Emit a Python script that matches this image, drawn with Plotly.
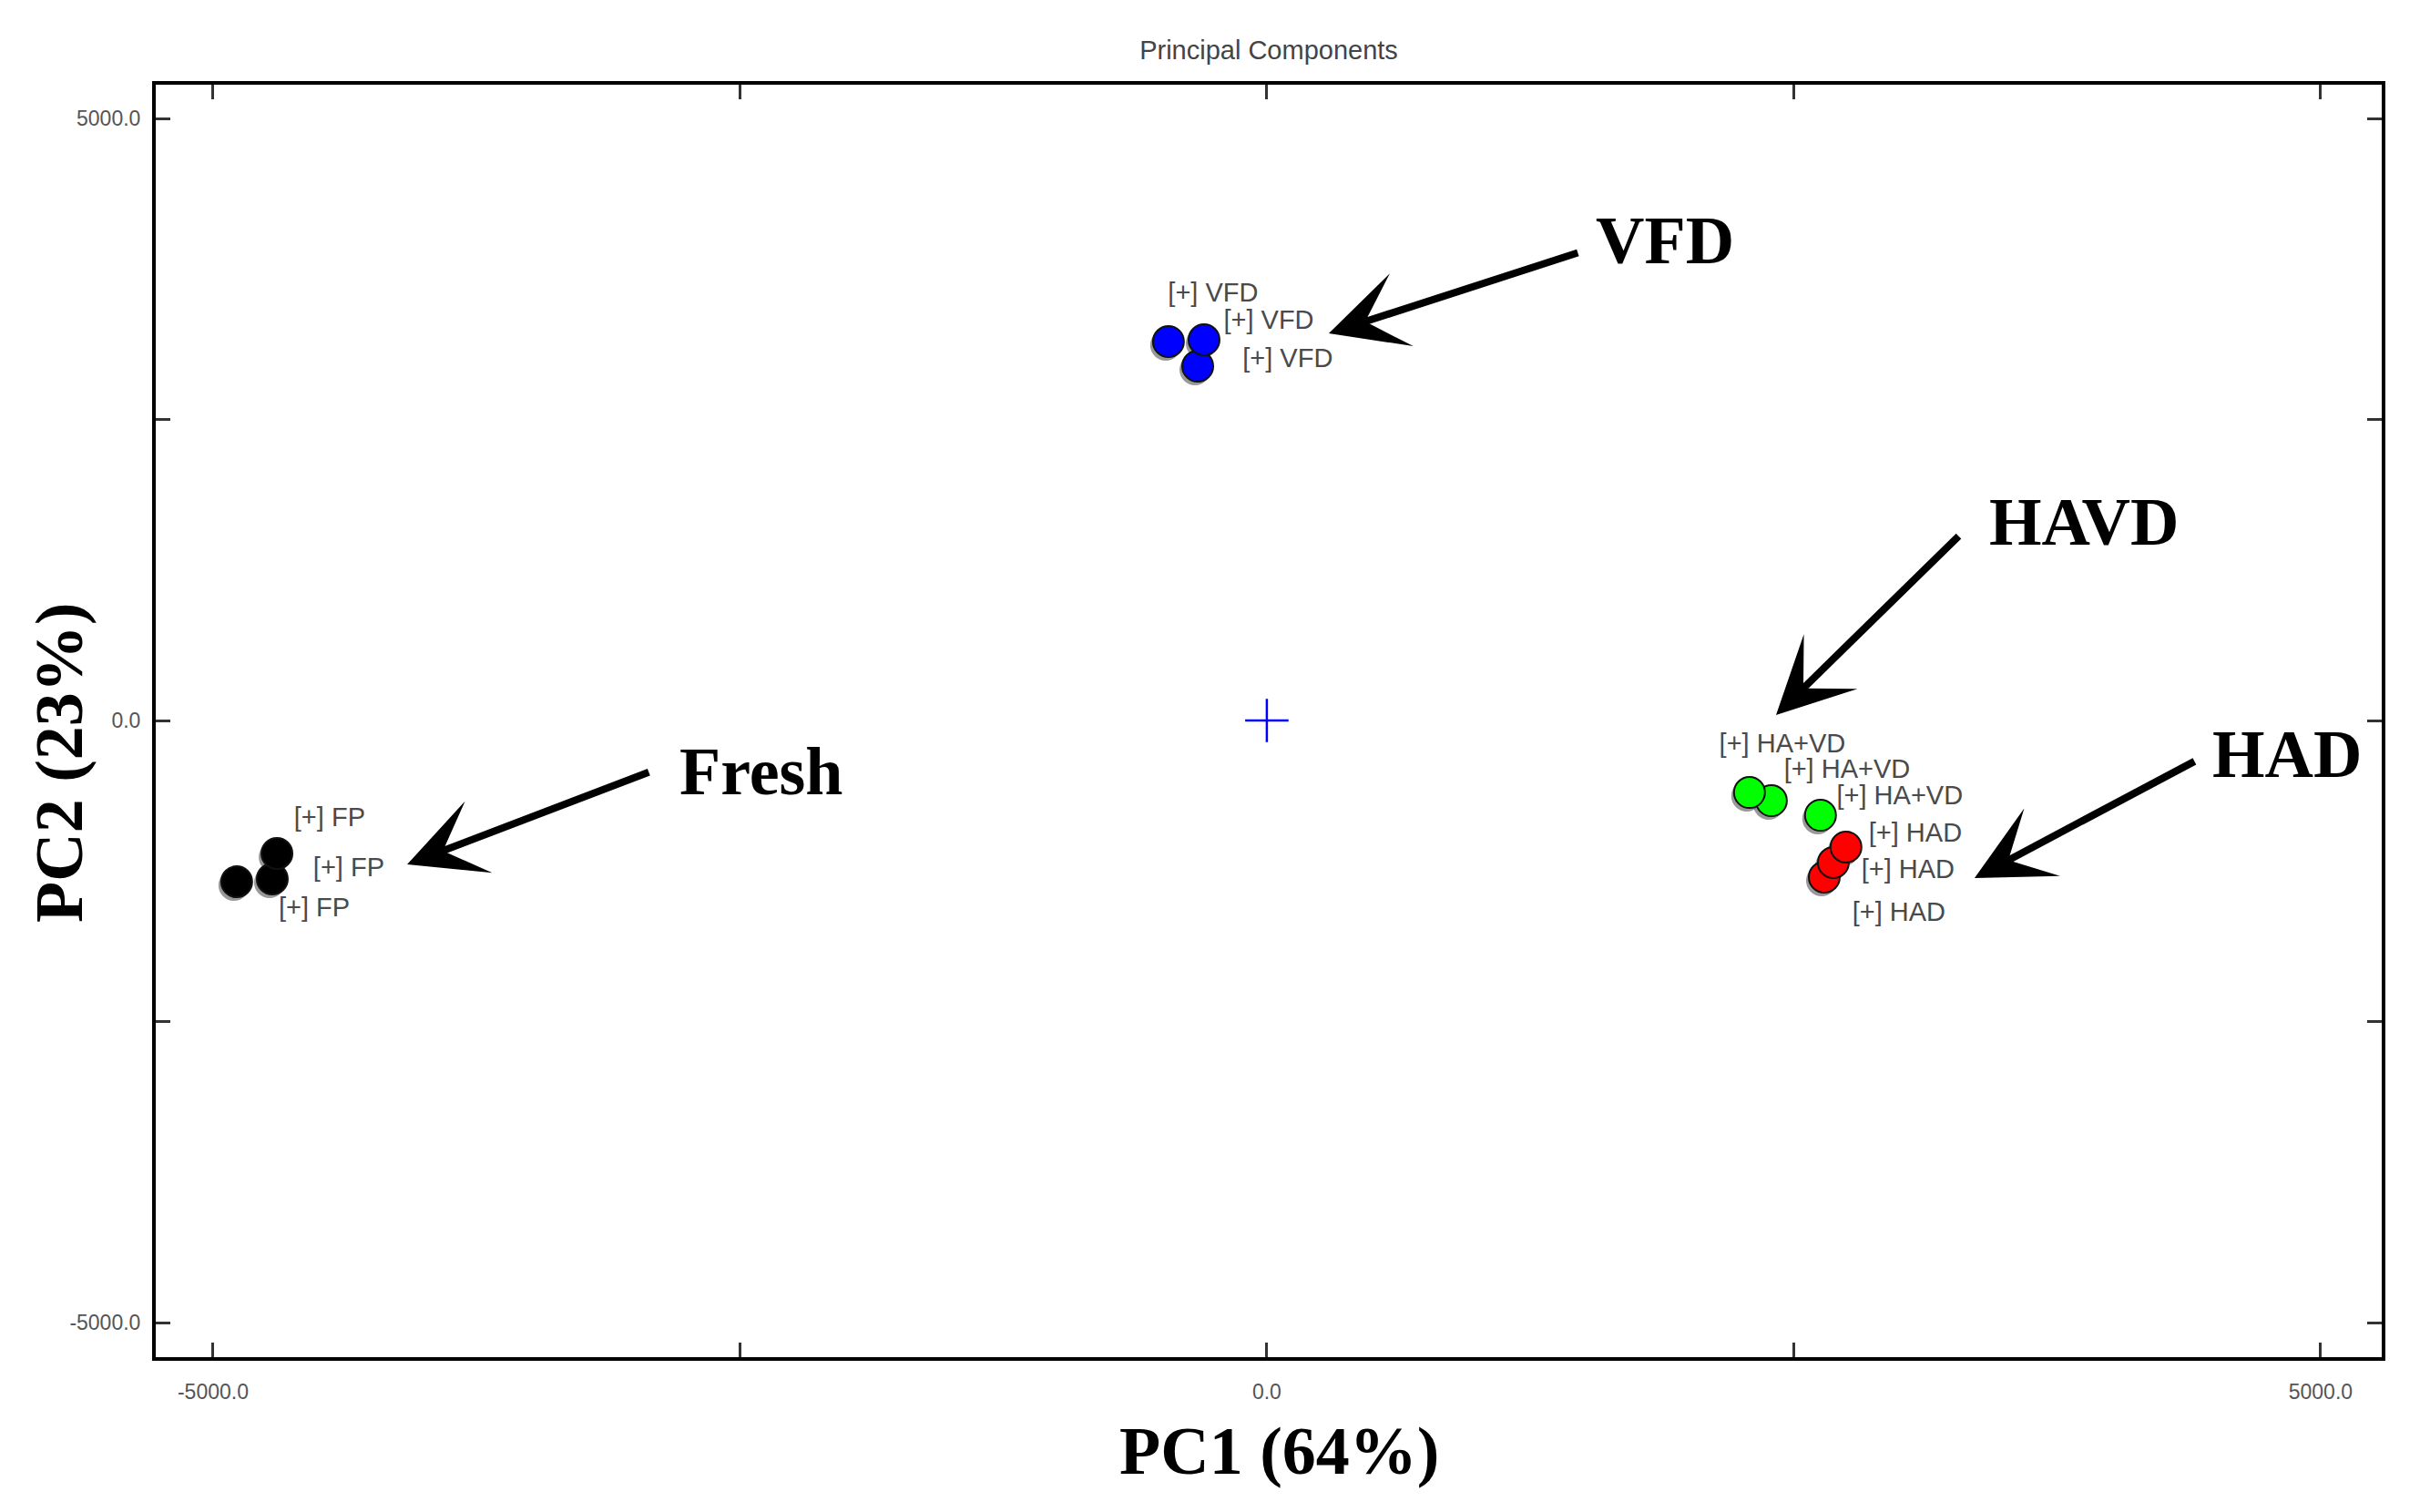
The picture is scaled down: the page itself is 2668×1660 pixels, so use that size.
import plotly.graph_objects as go

# ---------------- data ----------------
# sample scores (PC1, PC2), listed in drawing order
fp_pc1 = [-4888, -4719, -4697]
fp_pc2 = [-1339, -1316, -1104]
vfd_pc1 = [-467, -328, -298]
vfd_pc2 = [3147, 2943, 3162]
havd_pc1 = [2394, 2290, 2627]
havd_pc2 = [-666, -598, -787]
had_pc1 = [2645, 2688, 2748]
had_pc2 = [-1301, -1180, -1051]

# sample label anchors (PC1, PC2)
fp_label_pc1 = [-4447, -4356, -4520]
fp_label_pc2 = [-825, -1241, -1573]
vfd_label_pc1 = [-255, 9, 99]
vfd_label_pc2 = [3533, 3306, 2988]
havd_label_pc1 = [2446, 2753, 3003]
havd_label_pc2 = [-212, -424, -643]
had_label_pc1 = [3077, 3042, 2999]
had_label_pc2 = [-953, -1256, -1611]

fp_label_text = ["[+] FP", "[+] FP", "[+] FP"]
vfd_label_text = ["[+] VFD", "[+] VFD", "[+] VFD"]
havd_label_text = ["[+] HA+VD", "[+] HA+VD", "[+] HA+VD"]
had_label_text = ["[+] HAD", "[+] HAD", "[+] HAD"]

# origin of the score space
origin_pc1 = [0.0]
origin_pc2 = [0.0]

# axis ticks
x_tick_values = [-5000, -2500, 0, 2500, 5000]
x_tick_labels = ["-5000.0", "", "0.0", "", "5000.0"]
y_tick_values = [-5000, -2500, 0, 2500, 5000]
y_tick_labels = ["-5000.0", "", "0.0", "", "5000.0"]

# titles
chart_title = "Principal Components"
x_title = "PC1 (64%)"
y_title = "PC2 (23%)"

# group call-outs
callout_text = ["VFD", "HAVD", "HAD", "Fresh"]
callout_pc1 = [1889, 3876, 4840, -2398]
callout_pc2 = [3987, 1649, -280, -424]
arrow_tail_pc1 = [1482, 3289, 4408, -2926]
arrow_tail_pc2 = [3888, 1543, -333, -424]
arrow_tip_pc1 = [294, 2416, 3358, -4079]
arrow_tip_pc2 = [3215, 45, -1309, -1195]

# ---------------- layout / style ----------------
W, H = 2652, 1640
ML, MR, MT, MB = 163, 45, 85, 158
X_RANGE = [-5272, 5290]
Y_RANGE = [-5287, 5280]
PLOT_W = W - ML - MR
PLOT_H = H - MT - MB
SHADOW_DX, SHADOW_DY = -3, -4  # pixels (negative dy = down)
ux = (X_RANGE[1] - X_RANGE[0]) / PLOT_W
uy = (Y_RANGE[1] - Y_RANGE[0]) / PLOT_H
shadow_x_range = [X_RANGE[0] - SHADOW_DX * ux, X_RANGE[1] - SHADOW_DX * ux]
shadow_y_range = [Y_RANGE[0] - SHADOW_DY * uy, Y_RANGE[1] - SHADOW_DY * uy]

SANS = "Liberation Sans, Arial, sans-serif"
SERIF = "Liberation Serif, Times New Roman, serif"
MARKER_SIZE = 34
BIG_FONT = dict(family=SERIF, size=74, color="black", weight="bold")

groups = [
    ("Fresh", fp_pc1, fp_pc2, fp_label_pc1, fp_label_pc2, fp_label_text, "#000000"),
    ("VFD", vfd_pc1, vfd_pc2, vfd_label_pc1, vfd_label_pc2, vfd_label_text, "#0000ff"),
    ("HAVD", havd_pc1, havd_pc2, havd_label_pc1, havd_label_pc2, havd_label_text, "#00ff00"),
    ("HAD", had_pc1, had_pc2, had_label_pc1, had_label_pc2, had_label_text, "#ff0000"),
]

fig = go.Figure()

# drop shadows (drawn on a hidden, pixel-shifted copy of the axes)
for name, xs, ys, lx, ly, lt, color in groups:
    fig.add_trace(go.Scatter(
        x=xs, y=ys, mode="markers", xaxis="x", yaxis="y",
        marker=dict(size=MARKER_SIZE, color="rgba(70,70,70,0.55)", line=dict(width=0)),
        hoverinfo="skip", showlegend=False,
    ))

# sample labels
for name, xs, ys, lx, ly, lt, color in groups:
    fig.add_trace(go.Scatter(
        x=lx, y=ly, mode="text", text=lt, xaxis="x2", yaxis="y2",
        textposition="middle center",
        textfont=dict(family=SANS, size=29, color="#4a4a4a"),
        hoverinfo="skip", showlegend=False,
    ))

# sample points
for name, xs, ys, lx, ly, lt, color in groups:
    fig.add_trace(go.Scatter(
        x=xs, y=ys, mode="markers", name=name, xaxis="x2", yaxis="y2",
        marker=dict(size=MARKER_SIZE, color=color, line=dict(width=2, color="#111111")),
        showlegend=False,
    ))

# origin cross
fig.add_trace(go.Scatter(
    x=origin_pc1, y=origin_pc2, mode="markers", xaxis="x2", yaxis="y2",
    marker=dict(symbol="cross-thin", size=34, line=dict(width=2.5, color="#0000ff")),
    hoverinfo="skip", showlegend=False,
))

annotations = []
for t, cx, cy, tx, ty, hx, hy in zip(callout_text, callout_pc1, callout_pc2,
                                      arrow_tail_pc1, arrow_tail_pc2,
                                      arrow_tip_pc1, arrow_tip_pc2):
    annotations.append(dict(
        x=hx, y=hy, xref="x2", yref="y2", ax=tx, ay=ty, axref="x2", ayref="y2",
        text="", showarrow=True, arrowhead=3, arrowsize=1.75, arrowwidth=8,
        arrowcolor="black", standoff=0, startstandoff=0,
    ))
    annotations.append(dict(
        x=cx, y=cy, xref="x2", yref="y2", text=t, showarrow=False,
        xanchor="center", yanchor="middle", font=BIG_FONT,
    ))

# axis titles
annotations.append(dict(
    text=x_title, xref="paper", yref="paper", x=(1396 - ML) / PLOT_W,
    y=(H - MB - 1585) / PLOT_H, xanchor="center", yanchor="middle",
    showarrow=False, font=BIG_FONT,
))
annotations.append(dict(
    text=y_title, xref="paper", yref="paper", x=(57 - ML) / PLOT_W,
    y=(H - MB - 830) / PLOT_H, xanchor="center", yanchor="middle",
    textangle=-90, showarrow=False, font=BIG_FONT,
))

axis_common = dict(
    showgrid=False, zeroline=False, showline=True, linewidth=4, linecolor="black",
    mirror="ticks", ticks="inside", ticklen=16, tickwidth=3, tickcolor="#333333",
    tickfont=dict(family=SANS, size=23, color="#555555"),
)

fig.update_layout(
    width=W, height=H,
    margin=dict(l=ML, r=MR, t=MT, b=MB, pad=0),
    paper_bgcolor="white", plot_bgcolor="white",
    title=dict(text=chart_title, x=0.5, xref="paper", xanchor="center",
               y=1 - 47 / H, yref="container", yanchor="middle",
               font=dict(family=SANS, size=29, color="#444444")),
    xaxis=dict(range=shadow_x_range, visible=False, showgrid=False, zeroline=False),
    yaxis=dict(range=shadow_y_range, visible=False, showgrid=False, zeroline=False),
    xaxis2=dict(overlaying="x", anchor="y2", range=X_RANGE,
                tickvals=x_tick_values, ticktext=x_tick_labels, ticklabelstandoff=14,
                **axis_common),
    yaxis2=dict(overlaying="y", anchor="x2", range=Y_RANGE,
                tickvals=y_tick_values, ticktext=y_tick_labels, ticklabelstandoff=8,
                **axis_common),
    annotations=annotations,
)

fig.write_html("out.html")
